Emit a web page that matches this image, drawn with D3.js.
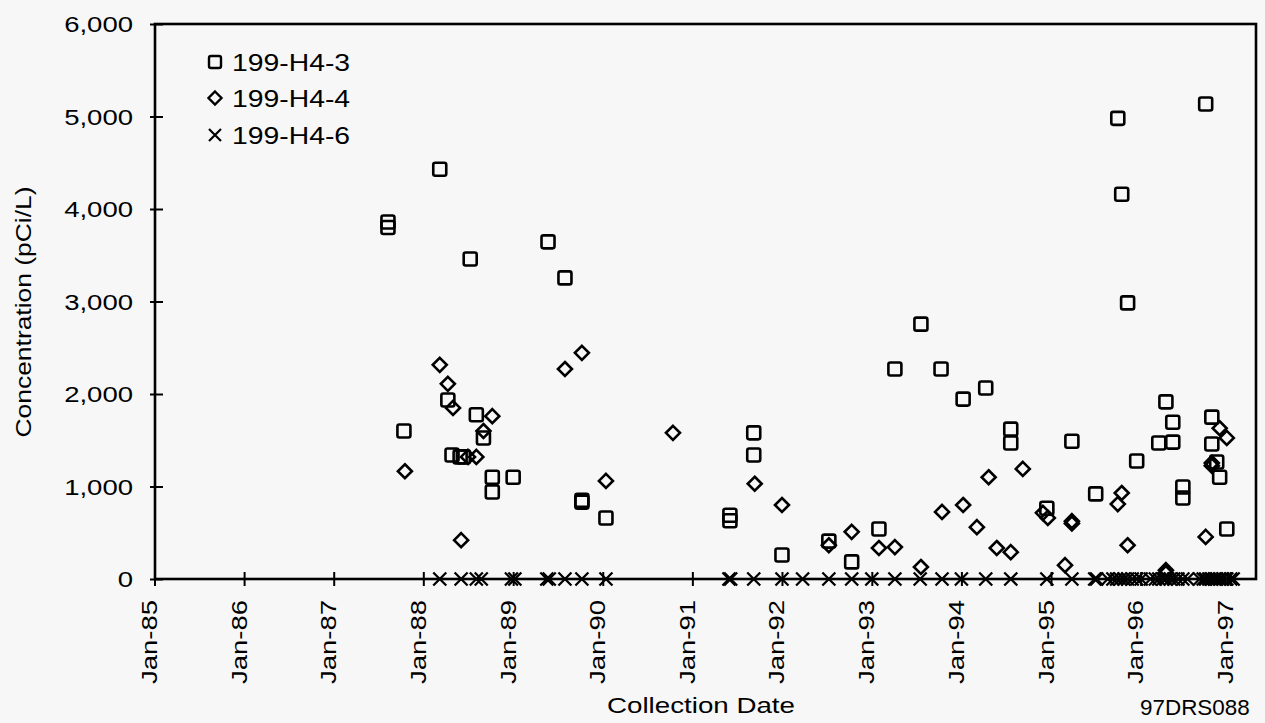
<!DOCTYPE html>
<html>
<head>
<meta charset="utf-8">
<script src="https://cdn.jsdelivr.net/npm/d3@7"></script>
<style>
body { margin: 0; background: #f7f7f7; }
svg { display: block; }
text { font-family: "Liberation Sans", Arial, sans-serif; fill: #000; }
</style>
</head>
<body>
<div id="chart"></div>
<script>
// 199-H4-3 (squares)
var h43Dates = ["1987-08-10","1987-08-10","1987-10-14","1988-03-08","1988-04-10","1988-04-27","1988-05-30","1988-06-12",
    "1988-07-10","1988-08-04","1988-09-02","1988-10-08","1988-10-08","1989-01-01","1989-05-23","1989-07-31",
    "1989-10-08","1989-10-08","1990-01-14","1991-06-03","1991-06-03","1991-09-08","1991-09-08","1992-01-01",
    "1992-07-10","1992-10-11","1993-01-30","1993-04-05","1993-07-20","1993-10-10","1994-01-08","1994-04-10",
    "1994-07-21","1994-07-21","1994-12-15","1995-03-27","1995-07-02","1995-09-30","1995-10-16","1995-11-09",
    "1995-12-16","1996-03-15","1996-04-13","1996-05-11","1996-05-11","1996-06-21","1996-06-21","1996-09-22",
    "1996-10-17","1996-10-17","1996-11-06","1996-11-18","1996-12-17"];
var h43Values = [3860,3800,1600,4430,1935,1340,1320,1320,
    3460,1775,1525,1100,940,1100,3645,3255,
    850,830,660,690,630,1580,1340,260,
    410,185,540,2270,2755,2270,1945,2065,
    1620,1470,765,1490,920,4980,4160,2985,
    1275,1470,1915,1695,1480,995,875,5135,
    1750,1460,1265,1100,540];

// 199-H4-4 (diamonds)
var h44Dates = ["1987-10-18","1988-03-08","1988-04-10","1988-05-01","1988-06-03","1988-07-01","1988-08-04","1988-09-02",
    "1988-10-08","1989-07-31","1989-10-08","1990-01-14","1990-10-14","1991-09-12","1992-01-01","1992-07-10",
    "1992-10-11","1993-01-30","1993-04-05","1993-07-20","1993-10-14","1994-01-08","1994-03-05","1994-04-22",
    "1994-05-25","1994-07-21","1994-09-08","1994-11-29","1994-12-19","1995-02-27","1995-03-27","1995-03-27",
    "1995-09-30","1995-10-16","1995-11-09","1996-04-13","1996-04-13","1996-09-22","1996-10-17","1996-10-17",
    "1996-11-18","1996-12-17"];
var h44Values = [1165,2315,2110,1850,420,1320,1320,1600,
    1760,2270,2445,1060,1580,1030,800,365,
    510,335,345,130,725,800,560,1100,
    335,290,1190,715,660,150,625,600,
    810,930,365,95,65,455,1255,1225,
    1630,1525];

// 199-H4-6 (crosses)
var h46Dates = ["1988-03-08","1988-06-03","1988-08-04","1988-08-24","1988-12-25","1989-01-08","1989-05-18","1989-05-28",
    "1989-07-31","1989-10-08","1990-01-14","1991-05-30","1991-06-06","1991-09-08","1992-01-01","1992-03-25",
    "1992-07-10","1992-10-11","1993-01-01","1993-04-05","1993-07-17","1993-10-14","1994-01-01","1994-04-10",
    "1994-07-21","1994-12-15","1995-03-27","1995-06-28","1995-07-06","1995-08-20","1995-09-10","1995-09-25",
    "1995-10-10","1995-10-25","1995-11-09","1995-11-28","1995-12-16","1996-01-03","1996-02-10","1996-03-01",
    "1996-03-15","1996-04-01","1996-04-13","1996-05-01","1996-05-15","1996-06-01","1996-06-21","1996-07-10",
    "1996-08-28","1996-09-12","1996-09-22","1996-10-05","1996-10-17","1996-10-28","1996-11-06","1996-11-18",
    "1996-12-01","1996-12-17","1997-01-02","1997-01-12"];
var h46Values = [0,0,0,0,0,0,0,0, 0,0,0,0,0,0,0,0, 0,0,0,0,0,0,0,0,
    0,0,0,0,0,0,0,0, 0,0,0,0,0,0,0,0, 0,0,0,0,0,0,0,0,
    0,0,0,0,0,0,0,0, 0,0,0,0];

var xTickDates = ["1985-01-01","1986-01-01","1987-01-01","1988-01-01","1989-01-01","1990-01-01","1991-01-01",
    "1992-01-01","1993-01-01","1994-01-01","1995-01-01","1996-01-01","1997-01-01"];
var yTicks = [0, 1000, 2000, 3000, 4000, 5000, 6000];
var seriesNames = ["199-H4-3", "199-H4-4", "199-H4-6"];

function stretch(sel, k) {
    sel.each(function() {
        var n = this.getComputedTextLength();
        d3.select(this).attr("textLength", n * k).attr("lengthAdjust", "spacingAndGlyphs");
    });
}

function init() {
    var w = 1265;
    var h = 723;
    var left = 155, right = 1256, top = 24, bottom = 579;
    var parse = d3.timeParse("%Y-%m-%d");

    var xScale = d3.scaleTime()
        .domain([parse("1985-01-01"), parse("1997-04-15")])
        .range([154.5, right]);
    var yScale = d3.scaleLinear()
        .domain([0, 6000])
        .range([bottom, top]);

    var svg = d3.select("#chart")
        .append("svg")
        .attr("width", w)
        .attr("height", h);

    var zip = function(dates, vals) {
        return dates.map(function(d, i) { return [parse(d), vals[i]]; });
    };
    var sq = zip(h43Dates, h43Values);
    var di = zip(h44Dates, h44Values);
    var xx = zip(h46Dates, h46Values);

    // axes
    var yAxis = d3.axisLeft(yScale).tickValues(yTicks).tickSize(5).tickPadding(17)
        .tickFormat(d3.format(","));
    var gy = svg.append("g").attr("transform", "translate(" + left + ",0)").call(yAxis);
    gy.select(".domain").remove();
    gy.selectAll("line").attr("stroke", "#000").attr("stroke-width", 2);
    gy.selectAll("text").style("font-size", "22px").attr("dy", "0.36em");
    stretch(gy.selectAll("text"), 1.25);

    var gy2 = svg.append("g").attr("transform", "translate(" + left + ",0)")
        .call(d3.axisRight(yScale).tickValues(yTicks).tickSize(8).tickFormat(""));
    gy2.select(".domain").remove();
    gy2.selectAll("line").attr("stroke", "#000").attr("stroke-width", 2);

    var xTicks = xTickDates.map(parse);
    var xAxis = d3.axisBottom(xScale).tickValues(xTicks).tickSize(7)
        .tickFormat(d3.timeFormat("%b-%y"));
    var gx = svg.append("g").attr("transform", "translate(0," + bottom + ")").call(xAxis);
    gx.select(".domain").remove();
    gx.selectAll("line").attr("stroke", "#000").attr("stroke-width", 2);
    gx.selectAll("text")
        .style("font-size", "22px")
        .attr("transform", "rotate(-90)")
        .attr("text-anchor", "end")
        .attr("x", -21)
        .attr("y", 2)
        .attr("dy", 0);
    stretch(gx.selectAll("text"), 1.25);

    var gx2 = svg.append("g").attr("transform", "translate(0," + bottom + ")")
        .call(d3.axisTop(xScale).tickValues(xTicks).tickSize(7).tickFormat(""));
    gx2.select(".domain").remove();
    gx2.selectAll("line").attr("stroke", "#000").attr("stroke-width", 2);

    // frame
    svg.append("rect")
        .attr("x", left).attr("y", top)
        .attr("width", right - left).attr("height", bottom - top)
        .attr("fill", "none").attr("stroke", "#000").attr("stroke-width", 2.6);

    // markers
    var diamond = "M0,-7L7,0L0,7L-7,0Z";
    var cross = "M-6.5,-6.5L6.5,6.5M-6.5,6.5L6.5,-6.5";

    svg.append("g").selectAll("path")
        .data(xx).enter().append("path")
        .attr("d", cross)
        .attr("transform", function(d) { return "translate(" + xScale(d[0]) + "," + yScale(d[1]) + ")"; })
        .attr("fill", "none").attr("stroke", "#000").attr("stroke-width", 2.3);

    svg.append("g").selectAll("path")
        .data(di).enter().append("path")
        .attr("d", diamond)
        .attr("transform", function(d) { return "translate(" + xScale(d[0]) + "," + yScale(d[1]) + ")"; })
        .attr("fill", "none").attr("stroke", "#000").attr("stroke-width", 2.6);

    svg.append("g").selectAll("rect")
        .data(sq).enter().append("rect")
        .attr("x", function(d) { return xScale(d[0]) - 6.5; })
        .attr("y", function(d) { return yScale(d[1]) - 6.5; })
        .attr("width", 13).attr("height", 13).attr("rx", 2)
        .attr("fill", "none").attr("stroke", "#000").attr("stroke-width", 2.6);

    // legend
    var lg = svg.append("g");
    var ly = [62, 98, 135];
    lg.append("rect").attr("x", 215 - 6).attr("y", ly[0] - 6).attr("width", 12).attr("height", 12).attr("rx", 2)
        .attr("fill", "none").attr("stroke", "#000").attr("stroke-width", 2.4);
    lg.append("path").attr("d", "M0,-6.5L6.5,0L0,6.5L-6.5,0Z").attr("transform", "translate(215," + ly[1] + ")")
        .attr("fill", "none").attr("stroke", "#000").attr("stroke-width", 2.4);
    lg.append("path").attr("d", "M-6,-6L6,6M-6,6L6,-6").attr("transform", "translate(215," + ly[2] + ")")
        .attr("fill", "none").attr("stroke", "#000").attr("stroke-width", 2.2);
    var lt = lg.selectAll("text").data(seriesNames).enter().append("text")
        .attr("x", 232)
        .attr("y", function(d, i) { return ly[i] + 8.5; })
        .style("font-size", "24px")
        .text(function(d) { return d; });
    stretch(lt, 1.18);

    // titles
    var yt = svg.append("text")
        .attr("transform", "translate(31,312) rotate(-90)")
        .attr("text-anchor", "middle")
        .style("font-size", "22px")
        .text("Concentration (pCi/L)");
    stretch(yt, 1.2);

    var xt = svg.append("text")
        .attr("x", 701).attr("y", 713)
        .attr("text-anchor", "middle")
        .style("font-size", "22px")
        .text("Collection Date");
    stretch(xt, 1.26);

    var tag = svg.append("text")
        .attr("x", 1140).attr("y", 715)
        .style("font-size", "22px")
        .text("97DRS088");
    stretch(tag, 1.02);
}

window.onload = init;
</script>
</body>
</html>
